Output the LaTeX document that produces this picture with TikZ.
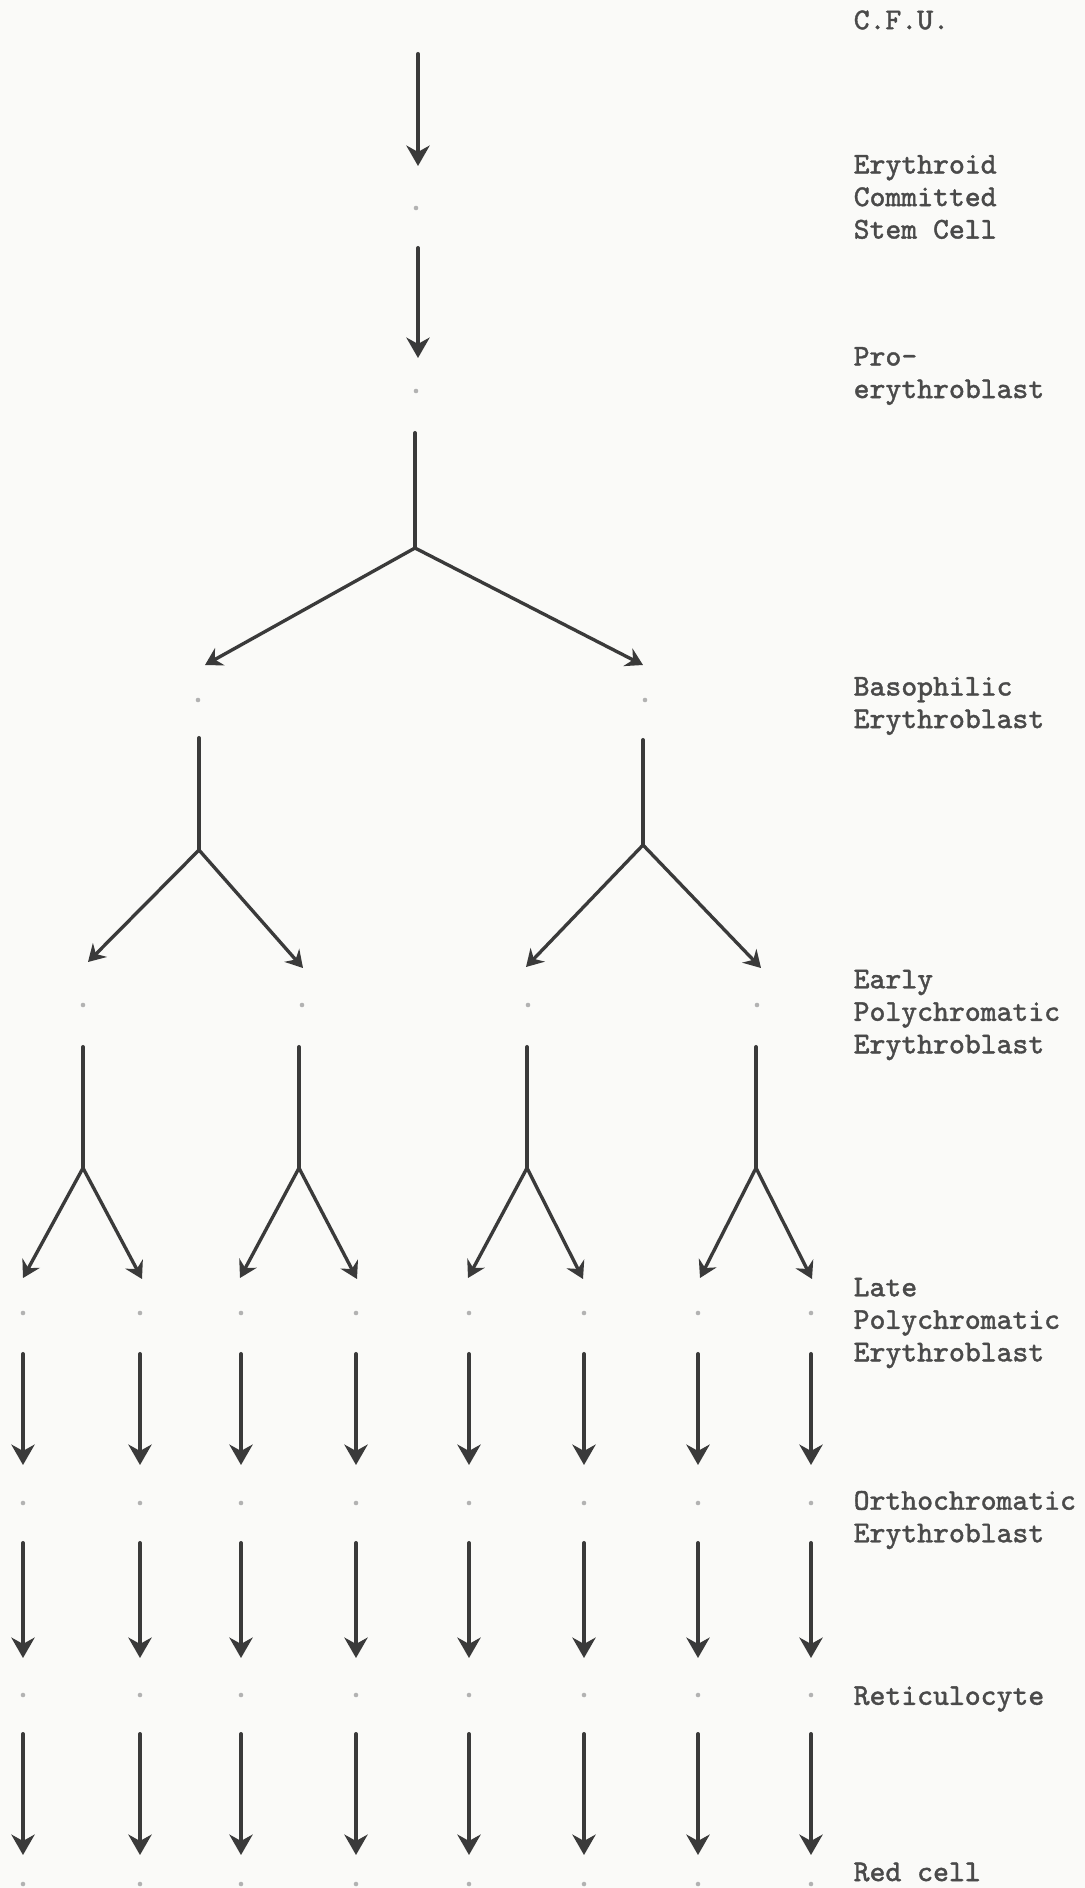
\documentclass[tikz,border=0pt]{standalone}
\usepackage{fontspec}
\usetikzlibrary{arrows.meta}
\newfontfamily\tw[FakeBold=1.2]{Latin Modern Mono}
\definecolor{ink}{HTML}{3A3A3A}
\definecolor{txt}{HTML}{4A4A4A}
\definecolor{paper}{HTML}{FAFAF8}
\begin{document}
\begin{tikzpicture}[x=0.01cm,y=-0.01cm,
  ln/.style={line width=1.15pt, draw=ink, line cap=round},
  arr/.style={ln, -{Stealth[length=5.8pt,width=6.6pt,inset=1.8pt]}},
  darr/.style={line width=0.95pt, draw=ink, line cap=round, -{Stealth[length=4.8pt,width=5.6pt,inset=1.6pt]}},
  dot/.style={circle, fill=gray!60, inner sep=0pt, minimum size=1.3pt},
  lbl/.style={anchor=west, align=left, inner sep=0pt, text=txt,
    font=\tw\fontsize{8.6}{9.25}\selectfont}]
\fill[paper] (0,0) rectangle (1085,1888);
\useasboundingbox (0,0) rectangle (1085,1888);

% stage labels
\node[lbl] (cfu)   at (853,20)   {C.F.U.};
\node[lbl] (ecsc)  at (853,197)  {Erythroid\\Committed\\Stem Cell};
\node[lbl] (pro)   at (853,376)  {Pro-\\erythroblast};
\node[lbl] (baso)  at (853,706)  {Basophilic\\Erythroblast};
\node[lbl] (early) at (853,1015) {Early\\Polychromatic\\Erythroblast};
\node[lbl] (late)  at (853,1323) {Late\\Polychromatic\\Erythroblast};
\node[lbl] (ortho) at (853,1520) {Orthochromatic\\Erythroblast};
\node[lbl] (retic) at (853,1699) {Reticulocyte};
\node[lbl] (red)   at (853,1872) {Red cell};

% position marks
\node[dot] (d1) at (416,208) {};
\node[dot] (d2) at (416,391) {};
\node[dot] (d3a) at (198,700) {};
\node[dot] (d3b) at (645,700) {};
\foreach \x [count=\i] in {83,302,528,757} { \node[dot] (d4\i) at (\x,1005) {}; }
\foreach \x [count=\i] in {23,140,241,356,469,584,698,811} {
  \node[dot] (d5\i) at (\x,1313) {};
  \node[dot] (d6\i) at (\x,1503) {};
  \node[dot] (d7\i) at (\x,1695) {};
  \node[dot] (d8\i) at (\x,1884) {};
}

% C.F.U. -> committed stem cell -> pro-erythroblast
\coordinate (a0s) at (418,54);  \coordinate (a0e) at (418,166);
\coordinate (a1s) at (418,248); \coordinate (a1e) at (418,358);
\draw[arr] (a0s) -- (a0e);
\draw[arr] (a1s) -- (a1e);

% first division
\coordinate (s1t) at (415,433); \coordinate (s1j) at (415,548);
\coordinate (s1l) at (205,665); \coordinate (s1r) at (643,665);
\draw[ln] (s1t) -- (s1j);
\draw[darr] (s1j) -- (s1l);
\draw[darr] (s1j) -- (s1r);

% second division
\coordinate (s2at) at (199,738); \coordinate (s2aj) at (199,850);
\coordinate (s2al) at (88,962);  \coordinate (s2ar) at (303,968);
\coordinate (s2bt) at (643,740); \coordinate (s2bj) at (643,845);
\coordinate (s2bl) at (526,967); \coordinate (s2br) at (761,968);
\draw[ln] (s2at) -- (s2aj);
\draw[darr] (s2aj) -- (s2al);
\draw[darr] (s2aj) -- (s2ar);
\draw[ln] (s2bt) -- (s2bj);
\draw[darr] (s2bj) -- (s2bl);
\draw[darr] (s2bj) -- (s2br);

% third division
\foreach \x/\l/\r [count=\i] in {83/23/142, 299/240/357, 527/468/583, 756/700/812} {
  \coordinate (s3t\i) at (\x,1047);
  \coordinate (s3j\i) at (\x,1168);
  \coordinate (s3l\i) at (\l,1278);
  \coordinate (s3r\i) at (\r,1279);
  \draw[ln] (s3t\i) -- (s3j\i);
  \draw[darr] (s3j\i) -- (s3l\i);
  \draw[darr] (s3j\i) -- (s3r\i);
}

% maturation without division
\foreach \x [count=\i] in {23,140,241,356,469,584,698,811} {
  \coordinate (r1s\i) at (\x,1354); \coordinate (r1e\i) at (\x,1465);
  \coordinate (r2s\i) at (\x,1543); \coordinate (r2e\i) at (\x,1658);
  \coordinate (r3s\i) at (\x,1734); \coordinate (r3e\i) at (\x,1855);
  \draw[arr] (r1s\i) -- (r1e\i);
  \draw[arr] (r2s\i) -- (r2e\i);
  \draw[arr] (r3s\i) -- (r3e\i);
}
\end{tikzpicture}
\end{document}
